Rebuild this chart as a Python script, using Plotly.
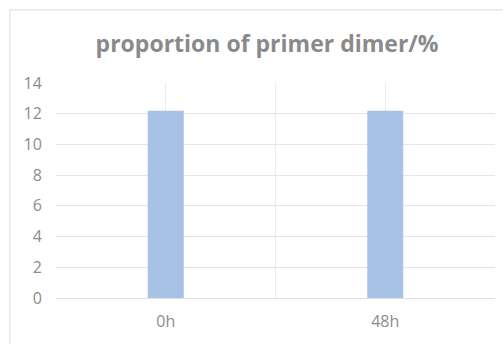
import plotly.graph_objects as go

categories = ["0h", "48h"]
values = [12.2, 12.2]
y_ticks = [0, 2, 4, 6, 8, 10, 12, 14]

x_pos = list(range(len(categories)))
grid_vals = []
grid_text = []
for i, c in enumerate(categories):
    grid_vals += [i - 0.5, i]
    grid_text += ["", c]
grid_vals.append(len(categories) - 0.5)
grid_text.append("")

fig = go.Figure()
fig.add_trace(go.Bar(
    x=x_pos, y=values, width=0.164,
    marker=dict(color="#a7c2e5", line=dict(width=0)),
    hoverinfo="skip",
))

fig.update_layout(
    width=503, height=344,
    margin=dict(l=56, r=8, t=83, b=46),
    paper_bgcolor="white", plot_bgcolor="white",
    showlegend=False,
    title=dict(
        text="<b>proportion of primer dimer/%</b>",
        x=0.531, xanchor="center", y=0.872, yanchor="middle",
        font=dict(family="Open Sans", size=23, color="#8a8a8a"),
    ),
    font=dict(family="Open Sans", color="#8c8c8c"),
    xaxis=dict(
        range=[-0.5, len(categories) - 0.5],
        tickmode="array", tickvals=grid_vals, ticktext=grid_text,
        showgrid=True, gridcolor="#ececec", gridwidth=1,
        zeroline=False, showline=True, linecolor="#dedede", linewidth=1,
        ticks="outside", ticklen=9, tickcolor="rgba(0,0,0,0)",
        tickfont=dict(size=16, color="#8c8c8c"),
    ),
    yaxis=dict(
        range=[0, 14], tickmode="array", tickvals=y_ticks,
        showgrid=True, gridcolor="#e6e6e6", gridwidth=1,
        zeroline=False, showline=False,
        ticks="outside", ticklen=10, tickcolor="rgba(0,0,0,0)",
        tickfont=dict(size=16, color="#8c8c8c"),
    ),
    shapes=[dict(
        type="rect", xref="paper", yref="paper",
        x0=-0.105, x1=1.2, y0=-0.5, y1=1.34,
        line=dict(color="#d9d9d9", width=1), fillcolor="rgba(0,0,0,0)",
        layer="below",
    )],
)

fig.write_html("out.html")
